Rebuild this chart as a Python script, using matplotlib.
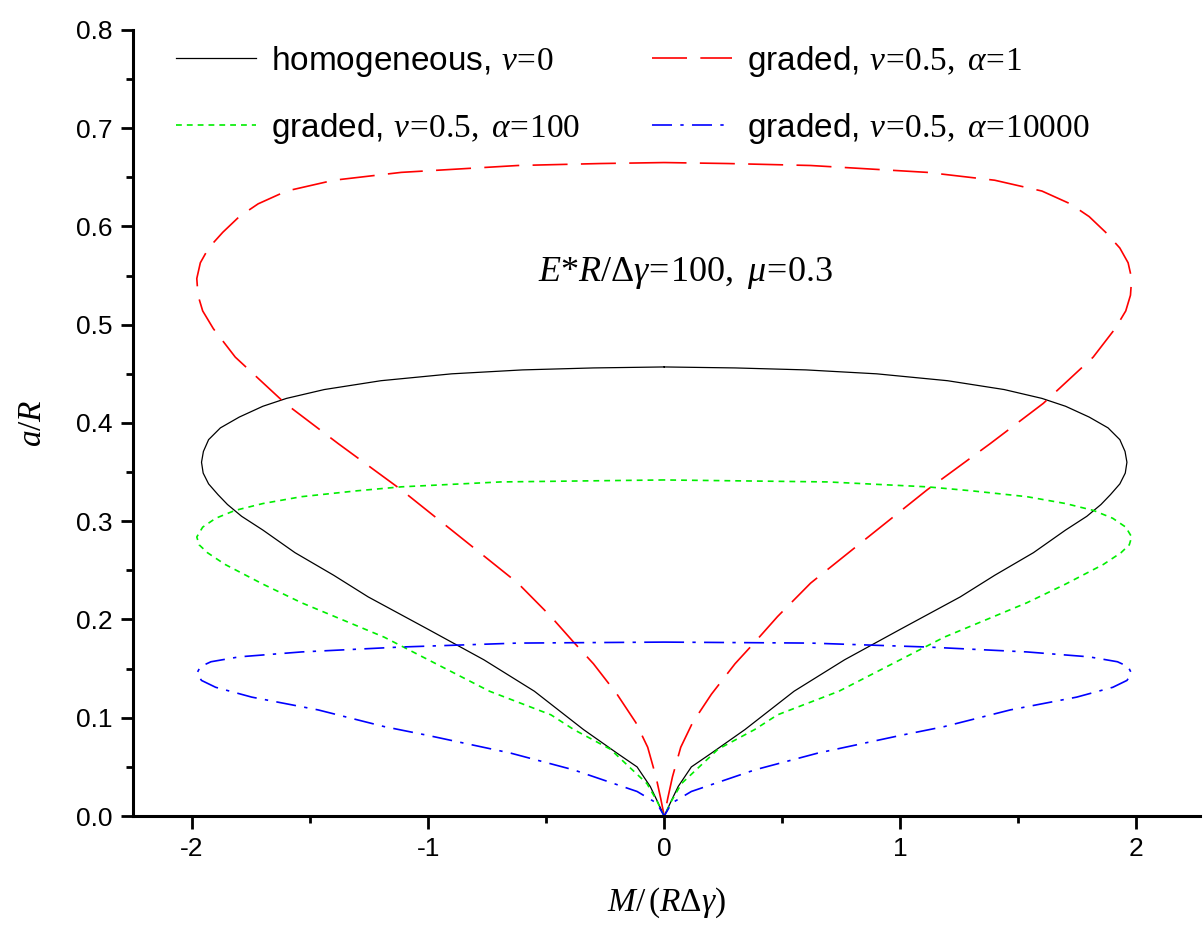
import numpy as np
import matplotlib
matplotlib.use("Agg")
import matplotlib.pyplot as plt
from matplotlib.ticker import MultipleLocator

plt.rcParams["font.family"] = ["Liberation Sans", "DejaVu Sans"]
plt.rcParams["mathtext.fontset"] = "custom"
plt.rcParams["mathtext.rm"] = "Liberation Serif"
plt.rcParams["mathtext.it"] = "Liberation Serif:italic"
plt.rcParams["axes.unicode_minus"] = False

# half loops: from the top at x=0, out along the upper branch
# to the tip at x~-2, then back along the lower branch to the origin (mirrored for x>0)
homog_x = [0, -0.3, -0.6, -0.9, -1.2, -1.44, -1.6, -1.7, -1.8, -1.88, -1.93, -1.952, -1.96,
           -1.953, -1.93, -1.89, -1.85, -1.79, -1.7, -1.564, -1.4, -1.254, -1.0, -0.764, -0.55,
           -0.342, -0.2, -0.115, -0.059, -0.031, 0]
homog_y = [0.457, 0.456, 0.454, 0.450, 0.443, 0.434, 0.425, 0.417, 0.406, 0.395, 0.383, 0.371, 0.360,
           0.349, 0.338, 0.327, 0.317, 0.305, 0.291, 0.268, 0.245, 0.223, 0.190, 0.159, 0.127,
           0.088, 0.064, 0.050, 0.030, 0.016, 0]

a1_x = [0, -0.27, -0.62, -1.114, -1.40, -1.6, -1.72, -1.80, -1.87, -1.93, -1.965, -1.98, -1.975,
        -1.955, -1.91, -1.817, -1.606, -1.381, -1.114, -0.833, -0.62, -0.48, -0.384, -0.30, -0.2,
        -0.12, -0.07, -0.035, -0.015, 0]
a1_y = [0.665, 0.664, 0.662, 0.655, 0.647, 0.636, 0.623, 0.610, 0.594, 0.578, 0.563, 0.547, 0.530,
        0.514, 0.496, 0.467, 0.420, 0.379, 0.332, 0.278, 0.237, 0.203, 0.177, 0.155, 0.124,
        0.095, 0.070, 0.040, 0.018, 0]

a100_x = [0, -0.692, -1.114, -1.3, -1.536, -1.7, -1.818, -1.9, -1.955, -1.98, -1.97, -1.935,
          -1.86, -1.7, -1.536, -1.186, -0.74, -0.48, -0.383, -0.228, -0.073, -0.03, 0]
a100_y = [0.342, 0.340, 0.335, 0.331, 0.325, 0.318, 0.311, 0.303, 0.294, 0.284, 0.276, 0.268,
          0.256, 0.236, 0.217, 0.182, 0.127, 0.103, 0.088, 0.068, 0.033, 0.015, 0]

a10000_x = [0, -0.62, -1.114, -1.536, -1.80, -1.92, -1.965, -1.98, -1.96, -1.9, -1.747, -1.466,
            -1.186, -1.0, -0.65, -0.384, -0.115, -0.031, 0]
a10000_y = [0.177, 0.176, 0.172, 0.167, 0.162, 0.157, 0.152, 0.145, 0.138, 0.131, 0.121, 0.108,
            0.091, 0.082, 0.064, 0.047, 0.025, 0.013, 0]


def full_loop(hx, hy):
    hx = np.array(hx, dtype=float)
    hy = np.array(hy, dtype=float)
    return np.concatenate([hx, -hx[::-1]]), np.concatenate([hy, hy[::-1]])


fig = plt.figure(figsize=(12.03, 9.34), dpi=100)
ax = fig.add_axes([0.1106, 0.1263, 0.887, 0.8417])

x, y = full_loop(homog_x, homog_y)
l1, = ax.plot(x, y, color="black", lw=0.9, ls="-")
x, y = full_loop(a1_x, a1_y)
l2, = ax.plot(x, y, color="#ff0000", lw=1.2, ls=(0, (21, 8)))
x, y = full_loop(a100_x, a100_y)
l3, = ax.plot(x, y, color="#00ee00", lw=1.2, ls=(0, (3.5, 3)))
x, y = full_loop(a10000_x, a10000_y)
l4, = ax.plot(x, y, color="#0000ff", lw=1.2, ls=(0, (12, 5, 2, 5)))

ax.set_xlim(-2.25, 2.27)
ax.set_ylim(0, 0.8)
ax.spines["top"].set_visible(False)
ax.spines["right"].set_visible(False)
ax.spines["left"].set_linewidth(2.2)
ax.spines["bottom"].set_linewidth(2.2)
ax.xaxis.set_major_locator(MultipleLocator(1))
ax.xaxis.set_minor_locator(MultipleLocator(0.5))
ax.yaxis.set_minor_locator(MultipleLocator(0.05))
ax.set_yticks(np.arange(0, 0.81, 0.1))
ax.set_yticklabels(["0.0", "0.1", "0.2", "0.3", "0.4", "0.5", "0.6", "0.7", "0.8"])
ax.tick_params(which="major", direction="out", length=9, width=2, labelsize=19, pad=6)
ax.tick_params(which="minor", direction="out", length=5, width=2)

ax.set_xlabel(r"$M/\,(R\Delta\gamma)$", fontsize=24, labelpad=18)
ax.set_ylabel(r"$a/R$", fontsize=24, labelpad=20)

ax.text(0.09, 0.553, r"$E{*}R/\Delta\gamma\!=\!100,\ \mu\!=\!0.3$",
        fontsize=26, ha="center", va="center")

ax.legend([l1, l3, l2, l4],
          [r"homogeneous, $v\!=\!0$",
           r"graded, $v\!=\!0.5,\ \alpha\!=\!100$",
           r"graded, $v\!=\!0.5,\ \alpha\!=\!1$",
           r"graded, $v\!=\!0.5,\ \alpha\!=\!10000$"],
          ncol=2, frameon=False, fontsize=24, loc="upper left",
          bbox_to_anchor=(0.012, 1.02), handlelength=2.4, handletextpad=0.45,
          columnspacing=2.15, labelspacing=0.95)

fig.savefig("out.png", dpi=100)
